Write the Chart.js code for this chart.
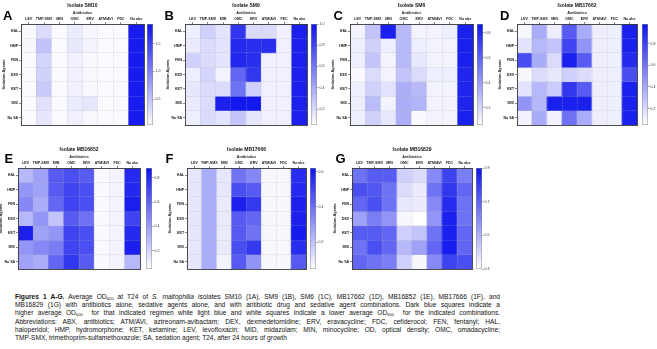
<!DOCTYPE html>
<html>
<head>
<meta charset="utf-8">
<script src="https://cdn.jsdelivr.net/npm/chart.js@4.4.1/dist/chart.umd.min.js"></script>
<style>
  html, body { margin: 0; padding: 0; background: #fff; }
  body { width: 657px; height: 349px; overflow: hidden; position: relative; font-family: "Liberation Sans", Arial, sans-serif; }
  canvas { position: absolute; }
  .letter { position: absolute; font-weight: bold; font-size: 13px; line-height: 13px; color: #000; }
  .cap { position: absolute; left: 15px; top: 293px; width: 485px; font-size: 6.6px; line-height: 8.2px; color: #111; }
  .cap div { white-space: nowrap; }
  .cap .j { text-align: justify; text-align-last: justify; }
  .cap sub { font-size: 0.62em; vertical-align: -0.25em; line-height: 0; }
</style>
</head>
<body>
<div class="cap">
  <div class="j"><b>Figures 1 A-G.</b> Average OD<sub>600</sub> at T24 of <i>S. maltophilia</i> isolates SM10 (1A), SM9 (1B), SM6 (1C), MB17662 (1D), MB16852 (1E), MB17666 (1F), and</div>
  <div class="j">MB16829 (1G) with antibiotics alone, sedative agents alone, and with antibiotic drug and sedative agent combinations. Dark blue squares indicate a</div>
  <div class="j">higher average OD<sub>600</sub>&nbsp; for that indicated regimen while light blue and white squares indicate a lower average OD<sub>600</sub>&nbsp; for the indicated combinations.</div>
  <div class="j">Abbreviations: ABX, antibiotics; ATM/AVI, aztreonam-avibactam; DEX, dexmedetomidine; ERV, eravacycline; FDC, cefiderocol; FEN, fentanyl; HAL,</div>
  <div class="j">haloperidol; HMP, hydromorphone; KET, ketamine; LEV, levofloxacin; MID, midazolam; MIN, minocycline; OD, optical density; OMC, omadacycline;</div>
  <div>TMP-SMX, trimethoprim-sulfamethoxazole; SA, sedation agent; T24, after 24 hours of growth</div>
</div>
<script>
// ---------------- DATA ----------------
const ANTIBIOTICS = ["LEV", "TMP-SMX", "MIN", "OMC", "ERV", "ATM/AVI", "FDC", "No abx"];
const SEDATION_AGENTS = ["HAL", "HMP", "FEN", "DEX", "KET", "MID", "No SA"];
const ISOLATES = ["SM10", "SM9", "SM6", "MB17662", "MB16852", "MB17666", "MB16829"];
const PANEL_LETTERS = ["A", "B", "C", "D", "E", "F", "G"];

// average OD600 at T24, rows = sedation agents (HAL..No SA), columns = antibiotics (LEV..No abx)
const OD_SM10 = [
  [0.08, 0.30, 0.06, 0.18, 0.10, 0.06, 0.06, 1.80],
  [0.09, 0.50, 0.07, 0.20, 0.12, 0.06, 0.06, 1.80],
  [0.07, 0.36, 0.06, 0.14, 0.08, 0.06, 0.06, 1.80],
  [0.07, 0.38, 0.06, 0.14, 0.08, 0.06, 0.06, 1.80],
  [0.07, 0.44, 0.06, 0.14, 0.08, 0.06, 0.06, 1.80],
  [0.07, 0.26, 0.06, 0.18, 0.22, 0.06, 0.06, 1.80],
  [0.07, 0.22, 0.06, 0.14, 0.08, 0.06, 0.06, 1.80]
];
const OD_SM9 = [
  [0.12, 0.24, 0.16, 0.86, 0.19, 0.19, 0.11, 0.95],
  [0.13, 0.19, 0.16, 0.91, 0.89, 0.89, 0.11, 0.95],
  [0.24, 0.19, 0.16, 0.92, 0.89, 0.11, 0.11, 0.95],
  [0.12, 0.22, 0.10, 0.67, 0.86, 0.11, 0.11, 0.95],
  [0.15, 0.19, 0.19, 0.62, 0.24, 0.11, 0.11, 0.95],
  [0.13, 0.19, 0.95, 0.98, 0.98, 0.11, 0.11, 0.95],
  [0.12, 0.19, 0.16, 0.29, 0.15, 0.11, 0.11, 0.95]
];
const OD_SM6 = [
  [0.10, 0.26, 0.83, 0.30, 0.10, 0.10, 0.12, 0.83],
  [0.12, 0.22, 0.12, 0.30, 0.12, 0.10, 0.10, 0.83],
  [0.12, 0.26, 0.10, 0.30, 0.14, 0.10, 0.10, 0.83],
  [0.08, 0.18, 0.10, 0.26, 0.18, 0.12, 0.12, 0.81],
  [0.12, 0.22, 0.16, 0.34, 0.30, 0.10, 0.10, 0.81],
  [0.12, 0.29, 0.10, 0.34, 0.32, 0.10, 0.10, 0.81],
  [0.12, 0.22, 0.14, 0.34, 0.08, 0.10, 0.10, 0.83]
];
const OD_MB17662 = [
  [0.08, 0.38, 0.12, 0.70, 0.38, 0.12, 0.11, 0.93],
  [0.16, 0.33, 0.28, 0.79, 0.47, 0.12, 0.11, 0.93],
  [0.75, 0.38, 0.19, 0.93, 0.70, 0.12, 0.11, 0.89],
  [0.08, 0.19, 0.14, 0.24, 0.19, 0.12, 0.11, 0.75],
  [0.16, 0.33, 0.25, 0.84, 0.70, 0.12, 0.11, 0.93],
  [0.47, 0.33, 0.93, 0.93, 0.93, 0.12, 0.11, 0.93],
  [0.10, 0.38, 0.10, 0.61, 0.38, 0.12, 0.11, 0.93]
];
const OD_MB16852 = [
  [0.30, 0.38, 0.63, 0.67, 0.63, 0.07, 0.09, 0.80],
  [0.42, 0.38, 0.63, 0.71, 0.67, 0.07, 0.09, 0.81],
  [0.47, 0.34, 0.59, 0.71, 0.67, 0.07, 0.09, 0.84],
  [0.30, 0.42, 0.26, 0.63, 0.55, 0.07, 0.09, 0.71],
  [0.84, 0.38, 0.42, 0.71, 0.67, 0.07, 0.09, 0.80],
  [0.42, 0.47, 0.51, 0.71, 0.67, 0.07, 0.09, 0.84],
  [0.38, 0.34, 0.59, 0.76, 0.63, 0.07, 0.09, 0.30]
];
const OD_MB17666 = [
  [0.11, 0.25, 0.11, 0.39, 0.34, 0.07, 0.07, 0.56],
  [0.11, 0.25, 0.11, 0.48, 0.45, 0.07, 0.07, 0.57],
  [0.11, 0.25, 0.10, 0.59, 0.53, 0.07, 0.07, 0.59],
  [0.11, 0.25, 0.10, 0.45, 0.42, 0.07, 0.07, 0.59],
  [0.11, 0.25, 0.10, 0.45, 0.39, 0.07, 0.07, 0.60],
  [0.11, 0.25, 0.10, 0.48, 0.53, 0.07, 0.07, 0.56],
  [0.11, 0.25, 0.08, 0.45, 0.31, 0.07, 0.07, 0.45]
];
const OD_MB16829 = [
  [0.68, 0.74, 0.74, 0.44, 0.41, 0.62, 0.80, 0.65],
  [0.77, 0.75, 0.68, 0.41, 0.37, 0.68, 0.83, 0.71],
  [0.71, 0.77, 0.68, 0.38, 0.37, 0.62, 0.86, 0.68],
  [0.56, 0.65, 0.59, 0.34, 0.32, 0.59, 0.89, 0.68],
  [0.74, 0.74, 0.71, 0.44, 0.47, 0.68, 0.89, 0.71],
  [0.68, 0.77, 0.71, 0.50, 0.56, 0.71, 0.90, 0.71],
  [0.71, 0.68, 0.65, 0.44, 0.34, 0.62, 0.80, 0.77]
];
const OD_TABLES = [OD_SM10, OD_SM9, OD_SM6, OD_MB17662, OD_MB16852, OD_MB17666, OD_MB16829];

// colour scale range and tick step of each panel's colour bar
const COLORBAR_MIN = [0.03, 0.05, 0.06, 0.05, 0.05, 0.05, 0.32];
const COLORBAR_MAX = [1.86, 1.00, 0.87, 0.98, 0.88, 0.62, 0.92];
const COLORBAR_STEP = [0.5, 0.2, 0.2, 0.2, 0.2, 0.2, 0.2];

// ---------------- LAYOUT ----------------
const FONT = "'Liberation Sans', Arial, sans-serif";
const PANEL_BOX = [
  { L: 21,  R: 144, T: 23.5, B: 124.5, cbL: 146.5, cbR: 152 },
  { L: 185, R: 307, T: 23.5, B: 124.5, cbL: 311,   cbR: 316.5 },
  { L: 350, R: 473, T: 23.5, B: 124.5, cbL: 477,   cbR: 482.5 },
  { L: 517, R: 637, T: 23.5, B: 124.5, cbL: 642,   cbR: 647.5 },
  { L: 18,  R: 140, T: 168,  B: 268.5, cbL: 146,   cbR: 151.5 },
  { L: 187, R: 306, T: 168,  B: 268.5, cbL: 310,   cbR: 315.5 },
  { L: 352, R: 472, T: 168,  B: 268.5, cbL: 476,   cbR: 481.5 }
];
const LETTER_POS = [
  { x: 3, y: 8.5 }, { x: 164.5, y: 8.5 }, { x: 333.5, y: 8.5 }, { x: 500, y: 8.5 },
  { x: 4.5, y: 152 }, { x: 165.5, y: 152 }, { x: 335.5, y: 152 }
];

function odColor(v, lo, hi) {
  let t = (v - lo) / (hi - lo);
  t = Math.max(0, Math.min(1, t));
  const r = Math.round(255 + (14 - 255) * t);
  const g = Math.round(255 + (20 - 255) * t);
  const b = Math.round(255 + (236 - 255) * t);
  return `rgb(${r},${g},${b})`;
}

function addCanvas(left, top, w, h) {
  const cv = document.createElement('canvas');
  cv.width = Math.round(w); cv.height = Math.round(h);
  cv.style.left = left + 'px'; cv.style.top = top + 'px';
  cv.style.width = Math.round(w) + 'px'; cv.style.height = Math.round(h) + 'px';
  document.body.appendChild(cv);
  return cv;
}

const YW = 24, XH = 14, TH = 10, PB = 3;
const FRAME = '#3a3a3a';
const GRIDC = 'rgba(175,175,175,0.65)';

function makeHeatmap(i) {
  const box = PANEL_BOX[i];
  const values = OD_TABLES[i];
  const W = box.R - box.L, H = box.B - box.T;
  const cv = addCanvas(box.L - YW, box.T - TH - XH, YW + W + YW, TH + XH + H + PB);
  const datasets = SEDATION_AGENTS.map((sa, r) => ({
    label: sa,
    data: ANTIBIOTICS.map(() => 1),
    backgroundColor: values[r].map(v => odColor(v, COLORBAR_MIN[i], COLORBAR_MAX[i])),
    borderWidth: 0,
    barPercentage: 1,
    categoryPercentage: 1
  }));
  const tickFont = { size: 3.6, weight: 'bold', family: FONT };
  const titleFont = { size: 3.8, weight: 'bold', family: FONT };
  new Chart(cv, {
    type: 'bar',
    data: { labels: ANTIBIOTICS, datasets },
    options: {
      responsive: false, animation: false, devicePixelRatio: 1,
      layout: { padding: { left: 0, right: 0, top: 0, bottom: PB } },
      plugins: {
        legend: { display: false },
        tooltip: { enabled: false },
        title: {
          display: true, text: 'Isolate ' + ISOLATES[i], color: '#111',
          font: { size: 5, weight: 'bold', family: FONT },
          padding: { top: 3, bottom: 1 }
        }
      },
      scales: {
        x: {
          type: 'category', position: 'top', stacked: true, offset: true,
          grid: { display: true, drawOnChartArea: false, drawTicks: true, tickLength: 2, offset: false, tickColor: FRAME, tickWidth: 0.6 },
          border: { display: true, color: FRAME, width: 0.9, z: 2 },
          ticks: { font: tickFont, color: '#222', padding: 0.8, maxRotation: 0, minRotation: 0, autoSkip: false },
          title: { display: true, text: 'Antibiotics', color: '#222', font: titleFont, padding: { top: 0.5, bottom: 0 } },
          afterFit: s => { s.height = XH; }
        },
        xg: {
          type: 'category', position: 'bottom', offset: true,
          grid: { display: true, offset: true, drawTicks: false, color: GRIDC, lineWidth: 0.6, z: 1 },
          border: { display: true, color: FRAME, width: 0.9, dash: [1.4, 1.4], z: 2 },
          ticks: { display: false },
          afterFit: s => { s.height = 0; }
        },
        y: {
          type: 'linear', position: 'left', min: 0, max: 7, reverse: true, stacked: true,
          afterBuildTicks: s => { s.ticks = SEDATION_AGENTS.map((_, k) => ({ value: k + 0.5 })); },
          grid: { display: true, drawOnChartArea: false, drawTicks: true, tickLength: 2, tickColor: FRAME, tickWidth: 0.6 },
          border: { display: true, color: FRAME, width: 0.9, z: 2 },
          ticks: { font: tickFont, color: '#222', padding: 0.8, autoSkip: false,
                   callback: v => SEDATION_AGENTS[Math.floor(v)] },
          title: { display: true, text: 'Sedation Agents', color: '#222', font: titleFont, padding: { top: 5, bottom: 0 } },
          afterFit: s => { s.width = YW; }
        },
        yg: {
          type: 'linear', position: 'right', min: 0, max: 7, reverse: true,
          grid: { display: true, drawTicks: false, color: GRIDC, lineWidth: 0.6, z: 1 },
          border: { display: true, color: FRAME, width: 0.9, dash: [1.4, 1.4], z: 2 },
          ticks: { display: false, stepSize: 1 },
          afterFit: s => { s.width = YW; }
        }
      }
    }
  });
}

function makeColorbar(i) {
  const box = PANEL_BOX[i];
  const CW = box.cbR - box.cbL, LW = 14, PT = 4, PBc = 4;
  const H = box.B - box.T;
  const cv = addCanvas(box.cbL, box.T - PT, CW + LW, H + PT + PBc);
  const lo = COLORBAR_MIN[i], hi = COLORBAR_MAX[i];
  new Chart(cv, {
    type: 'bar',
    data: {
      labels: ['OD600'],
      datasets: [{
        data: [[lo, hi]],
        backgroundColor: c => {
          const ch = c.chart, a = ch.chartArea;
          if (!a) return '#fff';
          const g = ch.ctx.createLinearGradient(0, a.bottom, 0, a.top);
          g.addColorStop(0, odColor(lo, lo, hi));
          g.addColorStop(1, odColor(hi, lo, hi));
          return g;
        },
        borderColor: '#8a8a8a', borderWidth: 0.8, borderSkipped: false,
        barPercentage: 1, categoryPercentage: 1
      }]
    },
    options: {
      responsive: false, animation: false, devicePixelRatio: 1,
      layout: { padding: { left: 0, right: 0, top: PT, bottom: PBc } },
      plugins: { legend: { display: false }, tooltip: { enabled: false }, title: { display: false } },
      scales: {
        x: { display: false },
        y: {
          position: 'right', min: lo, max: hi,
          grid: { display: true, drawOnChartArea: false, drawTicks: true, tickLength: 1.6, tickColor: '#666', tickWidth: 0.6 },
          border: { display: false },
          ticks: { stepSize: COLORBAR_STEP[i], includeBounds: false, font: { size: 3.5, family: FONT }, color: '#333', padding: 1,
                   callback: v => Number(v).toFixed(1) },
          afterFit: s => { s.width = LW; }
        }
      }
    }
  });
}

for (let i = 0; i < ISOLATES.length; i++) {
  makeHeatmap(i);
  makeColorbar(i);
  const d = document.createElement('div');
  d.className = 'letter';
  d.textContent = PANEL_LETTERS[i];
  d.style.left = LETTER_POS[i].x + 'px';
  d.style.top = LETTER_POS[i].y + 'px';
  document.body.appendChild(d);
}
</script>
</body>
</html>
